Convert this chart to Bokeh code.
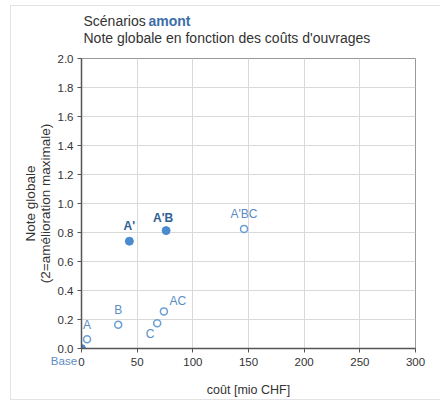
from bokeh.plotting import figure
from bokeh.layouts import column
from bokeh.models import (ColumnDataSource, FixedTicker, PrintfTickFormatter, Range1d,
                          Label, LinearAxis)
from bokeh.core.properties import value
from bokeh.embed import file_html
from bokeh.resources import INLINE

# data
names = ["Base", "A", "B", "C", "AC", "A'", "A'B", "A'BC"]
cost = [0, 5, 33, 68, 74, 43, 76, 146]
note = [0.0, 0.064, 0.163, 0.174, 0.256, 0.74, 0.813, 0.825]
filled = [True, False, False, False, False, True, True, False]
bold = [False, False, False, False, False, True, True, False]
x_ticks = [0, 50, 100, 150, 200, 250, 300]
y_ticks = [0.0, 0.2, 0.4, 0.6, 0.8, 1.0, 1.2, 1.4, 1.6, 1.8, 2.0]
title1 = "Scénarios"
title1b = "amont"
title2 = "Note globale  en fonction des coûts d'ouvrages"

# label offsets (styling), in pixels
dx = [-17, 0, 0, -7, 14, 0, -3, 0]
dy = [13, -14, -15, 11, -10, -15, -13, -15]

FONT = "Liberation Sans"
BLUE = "#4a8bd0"
LBL = "#5b8cc4"
DARK = "#2f5f95"
W = 430
L, R = 70, 404  # frame edges inside the figures (pixels)

# ---- title figure (frame is aligned with the main plot frame) ----
t = figure(width=W, height=45, output_backend="svg", toolbar_location=None,
           x_range=Range1d(L, R), y_range=Range1d(0, 45),
           x_axis_location=None, y_axis_location=None,
           min_border_left=L, min_border_right=W - R,
           min_border_top=0, min_border_bottom=0)
t.grid.visible = False
t.outline_line_color = None
t.add_layout(Label(x=72, y=31, text=title1, text_font=FONT, text_font_size="14px",
                   text_color="#333333", text_baseline="middle"))
t.add_layout(Label(x=137, y=31, text=title1b, text_font=FONT, text_font_size="14px",
                   text_color="#3c6ea8", text_font_style="bold", text_baseline="middle"))
t.add_layout(Label(x=72, y=14, text=title2, text_font=FONT, text_font_size="14px",
                   text_color="#333333", text_baseline="middle"))

# ---- main figure ----
p = figure(width=W, height=348, output_backend="svg", toolbar_location=None,
           x_range=Range1d(0, 300), y_range=Range1d(0, 2.0),
           min_border_left=L, min_border_right=W - R, min_border_top=7, min_border_bottom=50)
p.background_fill_color = "white"
p.outline_line_color = "#999999"
p.outline_line_width = 1

p.extra_x_ranges = {"base": Range1d(0, 300)}
ax2 = LinearAxis(x_range_name="base", ticker=FixedTicker(ticks=[0]),
                 major_label_overrides={0: "Base" + "\u00a0" * 11})
p.add_layout(ax2, "below")

for ax in (p.xaxis[0], p.yaxis[0], ax2):
    ax.axis_line_color = "#555555"
    ax.axis_line_width = 1.5
    ax.major_tick_line_color = "#555555"
    ax.major_tick_out = 4
    ax.major_tick_in = 0
    ax.minor_tick_line_color = None
    ax.major_label_text_font = FONT
    ax.major_label_text_font_size = "11.5px"
    ax.major_label_text_color = "#333333"
    ax.axis_label_text_font = FONT
    ax.axis_label_text_font_size = "12.5px"
    ax.axis_label_text_font_style = "normal"
    ax.axis_label_text_color = "#333333"

xa = p.xaxis[0]
ya = p.yaxis[0]
xa.ticker = FixedTicker(ticks=x_ticks)
ya.ticker = FixedTicker(ticks=y_ticks)
ya.formatter = PrintfTickFormatter(format="%.1f")
xa.major_label_standoff = 5
ya.major_label_standoff = 4
ya.axis_label = "Note globale\n(2=amélioration maximale)"
ya.axis_label_text_font_size = "13.5px"
ya.axis_label_standoff = 2
ya.axis_label_text_line_height = 1.0

ax2.axis_line_color = None
ax2.major_tick_line_color = None
ax2.major_tick_out = 0
ax2.major_label_text_color = LBL
ax2.major_label_standoff = -14
ax2.axis_label = "coût [mio CHF]"
ax2.axis_label_standoff = 13

p.xgrid.ticker = FixedTicker(ticks=x_ticks)
p.ygrid.ticker = FixedTicker(ticks=y_ticks)
p.grid.grid_line_color = "#d9d9d9"
p.grid.grid_line_width = 1

fx = [c for c, f in zip(cost, filled) if f]
fy = [n for n, f in zip(note, filled) if f]
ox = [c for c, f in zip(cost, filled) if not f]
oy = [n for n, f in zip(note, filled) if not f]
p.scatter(fx, fy, size=8, fill_color=BLUE, line_color=BLUE)
p.scatter(ox, oy, size=7, fill_color="white", line_color="#6a9fd4", line_width=1.5)

src = ColumnDataSource(dict(
    x=cost[1:], y=note[1:], t=names[1:], dx=dx[1:], dy=dy[1:],
    c=[DARK if b else LBL for b in bold[1:]],
    s=["bold" if b else "normal" for b in bold[1:]],
))
p.text(x="x", y="y", text="t", x_offset="dx", y_offset="dy", source=src,
       text_align="center", text_baseline="middle", text_color="c",
       text_font_style="s", text_font=value(FONT), text_font_size="12px")

layout = column(t, p, spacing=0,
                styles={"margin-left": "10px", "margin-top": "5px",
                        "border": "1px solid #e3e3e3"})

open("out.html", "w").write(file_html(layout, INLINE))
